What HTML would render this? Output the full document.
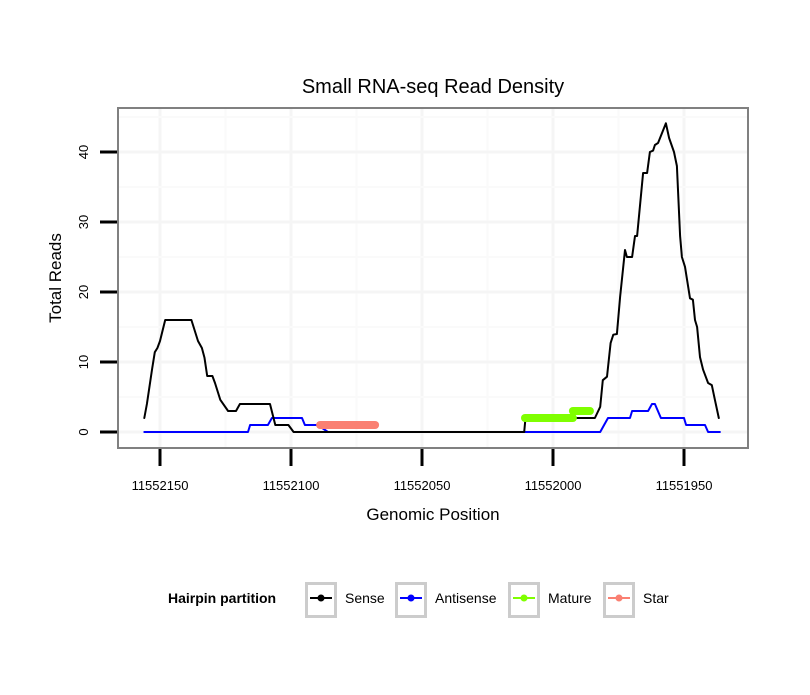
<!DOCTYPE html>
<html><head><meta charset="utf-8"><style>
body{margin:0;background:#fff;font-family:"Liberation Sans",sans-serif}
svg text{font-family:"Liberation Sans",sans-serif}
</style></head><body>
<svg id="chart" width="810" height="690" xmlns="http://www.w3.org/2000/svg">
<rect width="810" height="690" fill="#fff"/>
<text x="433" y="93" font-size="20" text-anchor="middle">Small RNA-seq Read Density</text>
<g id="grid"></g>
<g id="series"></g>
<rect x="118" y="108" width="630" height="340" fill="none" stroke="#808080" stroke-width="2"/>
<g id="axes"></g>
<text x="433" y="520" font-size="17" text-anchor="middle">Genomic Position</text>
<text transform="translate(61,278) rotate(-90)" font-size="17" text-anchor="middle">Total Reads</text>
<g>
<text x="168" y="603" font-size="14" font-weight="bold">Hairpin partition</text>
<g id="legend-items"></g>
</g>
</svg>
<script>
const sensePos=[11552156,11552155,11552153,11552152,11552151,11552150,11552148,11552138,11552135.5,11552134,11552133,11552132,11552130,11552129,11552127,11552124,11552121,11552119.5,11552108,11552106,11552104,11552101,11552099,11552089,11552011,11552010.5,11551986,11551984,11551982,11551981,11551979.4,11551978,11551977,11551975.6,11551974.4,11551972.5,11551971.8,11551969.8,11551968.7,11551967.9,11551965.6,11551964.1,11551963,11551961.8,11551961.1,11551959.9,11551956.9,11551955.7,11551953.8,11551952.7,11551951.5,11551950.8,11551949.6,11551947.7,11551946.6,11551945.8,11551945,11551943.9,11551942.7,11551940.8,11551939.4,11551938.2,11551936.7];
const senseVal=[2,4,9,11.4,12,13,16,16,13,12,10.6,8,8,7,4.6,3,3,4,4,1,1,1,0,0,0,2,2,2,3.6,7.4,7.9,12.7,13.9,14,19.3,26,25,25,28,28,37,37,40,40.2,41,41.3,44.1,42,40,38,28,25,23.6,19.1,18.9,16,15,10.7,8.9,7,6.7,4.6,2];
const antiPos=[11552156,11552116.4,11552115.6,11552108.8,11552107.3,11552095.8,11552094.7,11552089.7,11552085.9,11551982,11551980.5,11551979,11551970.6,11551969.8,11551963.7,11551962.2,11551961.1,11551958.8,11551950,11551949.2,11551942,11551940.8,11551936.3];
const antiVal=[0,0,1,1,2,2,1,1,0,0,1,2,2,3,3,4,4,2,2,1,1,0,0];
const maturePos=[11552010.7,11551992.4,11551992.4,11551985.9];
const matureVal=[2,2,3,3];
const starPos=[11552088.9,11552067.9];
const starVal=[1,1];
const xTicks=[11552150,11552100,11552050,11552000,11551950];
const yTicks=[0,10,20,30,40];
const legendLabels=["Sense","Antisense","Mature","Star"];
const legendColors=["#000000","#0000ff","#7fff00","#fa8072"];

const NS="http://www.w3.org/2000/svg";
function xs(p){return 160+(11552150-p)*2.62;}
function ys(v){return 432-v*7;}
function mk(tag,attrs,parent){const e=document.createElementNS(NS,tag);for(const k in attrs)e.setAttribute(k,attrs[k]);parent.appendChild(e);return e;}
const grid=document.getElementById('grid'),series=document.getElementById('series'),axes=document.getElementById('axes');
for(let i=0;i<xTicks.length;i++){
  [xTicks[i],xTicks[i]-25].forEach((p,j)=>{
    const gx=xs(p);if(gx>748||gx<118)return;
    const l=mk('line',{x1:gx,x2:gx,y1:109,y2:447,stroke:j?'#fafafa':'#f5f5f5','stroke-width':j?2:3},grid);
    
    
  });
}
for(let i=0;i<yTicks.length;i++){
  [yTicks[i],yTicks[i]+5].forEach((v,j)=>{
    const gy=ys(v);
    const l=mk('line',{x1:119,x2:747,y1:gy,y2:gy,stroke:j?'#fafafa':'#f5f5f5','stroke-width':j?2:3},grid);
    
    
  });
}
xTicks.forEach(p=>{
  const t=mk('line',{x1:xs(p),x2:xs(p),y1:449,y2:466,stroke:'#000','stroke-width':3},axes);
  
  
  const lb=mk('text',{x:xs(p),y:490,'font-size':13,'text-anchor':'middle'},axes);lb.textContent=p;
  
  
});
yTicks.forEach(v=>{
  const t=mk('line',{x1:100,x2:117,y1:ys(v),y2:ys(v),stroke:'#000','stroke-width':3},axes);
  
  
  const lb=mk('text',{transform:`translate(88,${ys(v)}) rotate(-90)`,'font-size':13,'text-anchor':'middle'},axes);lb.textContent=v;
  
  
});
function line(ps,vs,color,w,name){
  const d=ps.map((p,i)=>(i?'L':'M')+xs(p).toFixed(1)+','+ys(vs[i]).toFixed(1)).join('');
  const e=mk('path',{d:d,fill:'none',stroke:color,'stroke-width':w,'stroke-linejoin':'round','stroke-linecap':'round'},series);
  
  
}
line(antiPos,antiVal,'#0000ff',2,'antisense-line');
line(sensePos,senseVal,'#000000',2,'sense-line');
line(starPos,starVal,'#fa8072',8,'star-line');
line(maturePos.slice(0,2),matureVal.slice(0,2),'#7fff00',8,'mature-line-1');
line(maturePos.slice(2),matureVal.slice(2),'#7fff00',8,'mature-line-2');
const li=document.getElementById('legend-items');
const boxX=[305,395,508,603];
legendLabels.forEach((lab,i)=>{
  const g=mk('g',{},li);
  
  
  const bx=boxX[i];
  mk('rect',{x:bx+16-14.5,y:583.5,width:29,height:33,fill:'#fff',stroke:'#cccccc','stroke-width':3},g);
  mk('line',{x1:bx+5,x2:bx+27,y1:598,y2:598,stroke:legendColors[i],'stroke-width':2},g);
  mk('circle',{cx:bx+16,cy:598,r:3.5,fill:legendColors[i]},g);
  const t=mk('text',{x:bx+40,y:603,'font-size':14},g);t.textContent=lab;
});
</script>
</body></html>
